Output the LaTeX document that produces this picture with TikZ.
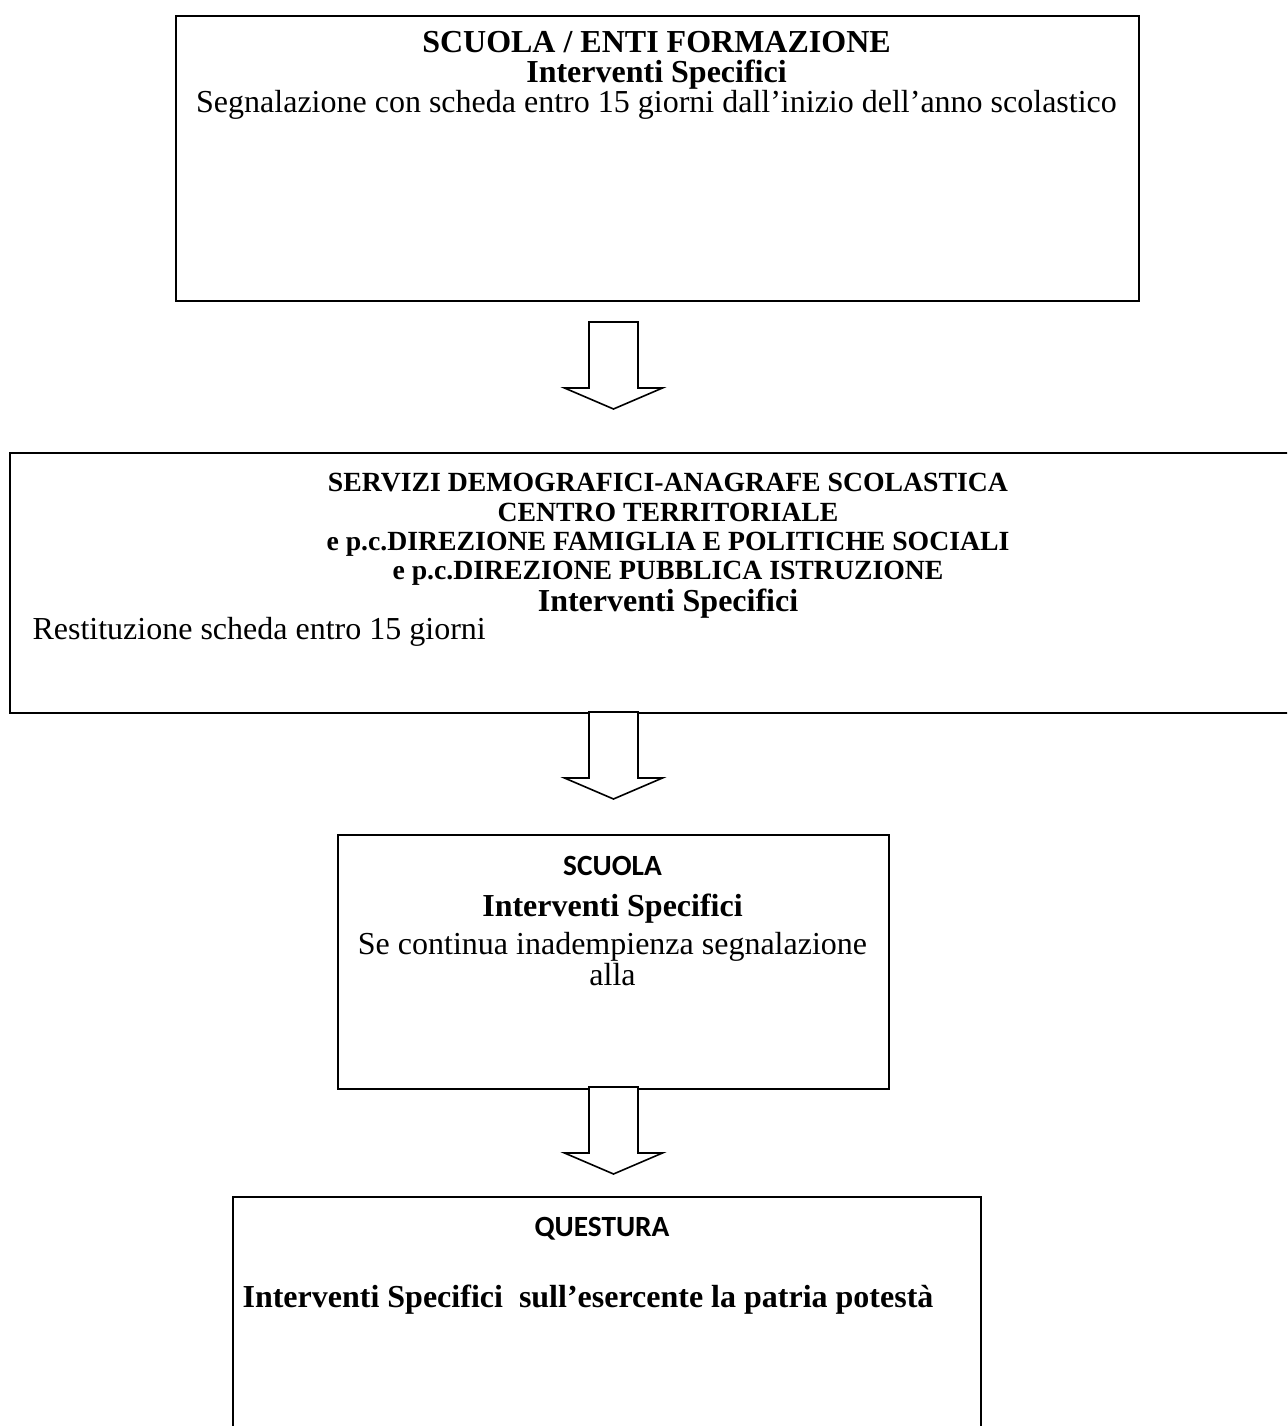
\documentclass[tikz,border=0pt]{standalone}
\usepackage{fontspec}
\setmainfont{Liberation Serif}
\newfontfamily\calibri{Carlito}
\usetikzlibrary{positioning,calc}

\tikzset{
  box/.style={rectangle, draw, line width=0.6pt, inner sep=0pt, anchor=north west},
  blockarrow/.style={draw, line width=0.6pt, fill=white, line join=miter},
  lbl/.style={anchor=base, inner sep=0pt, font=\fontsize{12}{14}\selectfont},
  head/.style={lbl, font=\fontsize{12}{14}\selectfont\bfseries},
  small head/.style={lbl, font=\fontsize{10.4}{12}\selectfont\bfseries},
  sans head/.style={lbl, font=\fontsize{11}{13}\selectfont\calibri\bfseries}
}
% hollow down arrow hanging from a named coordinate
\newcommand{\blockdown}[1]{%
  \draw[blockarrow] ($(#1)+(-24.5,0)$) -- ++(0,66) -- ++(-24.5,0) -- ++(49,21)
    -- ++(49,-21) -- ++(-24.5,0) -- ++(0,-66) -- cycle;}

\begin{document}
\begin{tikzpicture}[x=0.375pt, y=-0.375pt]
    \clip (0,0) rectangle (1287,1426);
    \fill[white] (0,0) rectangle (1287,1426);

    % boxes
    \node (enti) [box, minimum width=963*0.375pt, minimum height=285*0.375pt] at (175,15) {};
    \node (servizi) [box, minimum width=1320*0.375pt, minimum height=260*0.375pt] at (9,452) {};
    \node (scuola) [box, minimum width=551*0.375pt, minimum height=254*0.375pt] at (337,834) {};
    \node (questura) [box, minimum width=748*0.375pt, minimum height=300*0.375pt] at (232,1196) {};

    % texts
    \node (entiA) [head] at (656.5,53) {SCUOLA / ENTI FORMAZIONE};
    \node (entiB) [head] at (656.5,83) {Interventi Specifici};
    \node (entiC) [lbl] at (656.5,113) {Segnalazione con scheda entro 15 giorni dall’inizio dell’anno scolastico};

    \node (serviziA) [small head] at (668,491) {SERVIZI DEMOGRAFICI-ANAGRAFE SCOLASTICA};
    \node (serviziB) [small head] at (668,521) {CENTRO TERRITORIALE};
    \node (serviziC) [small head] at (668,550) {e p.c.DIREZIONE FAMIGLIA E POLITICHE SOCIALI};
    \node (serviziD) [small head] at (668,579) {e p.c.DIREZIONE PUBBLICA ISTRUZIONE};
    \node (serviziE) [head] at (668,611) {Interventi Specifici};
    \node (serviziF) [lbl, anchor=base west] at (32,639) {Restituzione scheda entro 15 giorni};

    \node (scuolaA) [sans head] at (612.5,875) {SCUOLA};
    \node (scuolaB) [head] at (612.5,916) {Interventi Specifici};
    \node (scuolaC) [lbl] at (612.5,954) {Se continua inadempienza segnalazione};
    \node (scuolaD) [lbl] at (612.5,985) {alla};

    \node (questuraA) [sans head] at (602,1236) {QUESTURA};
    \node (questuraB) [head] at (588,1307) {Interventi Specifici\ \ sull’esercente la patria potestà};

    % arrows
    \coordinate (a1) at (613.5,322);
    \coordinate (a2) at (613.5,712);
    \coordinate (a3) at (613.5,1087);
    \blockdown{a1}
    \blockdown{a2}
    \blockdown{a3}
\end{tikzpicture}
\end{document}
